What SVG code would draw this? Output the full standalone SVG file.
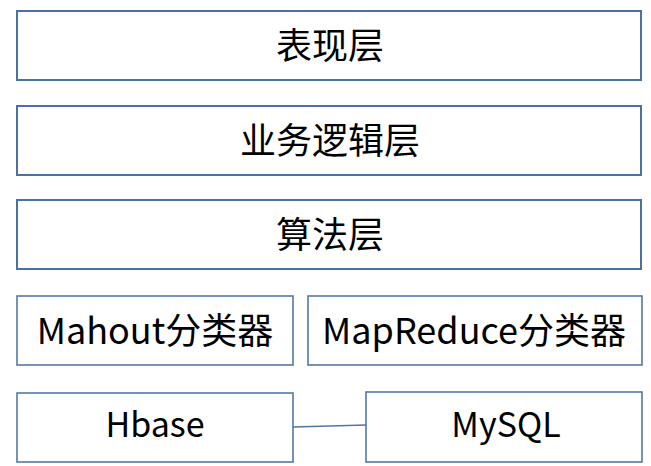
<svg xmlns="http://www.w3.org/2000/svg" width="651" height="466" viewBox="0 0 651 466">
<style>
.box{fill:#ffffff;stroke:#4A72A0;stroke-width:2}
.box2{fill:#ffffff;stroke:#5279A6;stroke-width:1.6}
.t{font-family:"Noto Sans CJK SC","Liberation Sans",sans-serif;font-size:36px;fill:#000000;text-anchor:middle}
.s{font-size:34px}
.c{fill:none;stroke:#4F76A3;stroke-width:1.6}
</style>
<rect width="651" height="466" fill="#ffffff"/>
<g id="connectors">
<line class="c" x1="293" y1="427" x2="366" y2="425"/>
</g>
<g id="presentation">
<rect class="box" x="17" y="11" width="624" height="69"/>
<text class="t" x="330" y="59">表现层</text>
</g>
<g id="business">
<rect class="box" x="17" y="106" width="624" height="69"/>
<text class="t" x="330" y="154">业务逻辑层</text>
</g>
<g id="algorithm">
<rect class="box" x="17" y="200" width="624" height="69"/>
<text class="t" x="330" y="248">算法层</text>
</g>
<g id="mahout">
<rect class="box2" x="17" y="296" width="276" height="69"/>
<text class="t" x="155" y="344">Mahout分类器</text>
</g>
<g id="mapreduce">
<rect class="box2" x="308" y="296" width="334" height="69"/>
<text class="t" x="474" y="344">MapReduce分类器</text>
</g>
<g id="hbase">
<rect class="box2" x="17" y="393" width="276" height="69"/>
<text class="t s" x="155" y="437">Hbase</text>
</g>
<g id="mysql">
<rect class="box2" x="366" y="392" width="276" height="70"/>
<text class="t s" x="506" y="437">MySQL</text>
</g>
</svg>
